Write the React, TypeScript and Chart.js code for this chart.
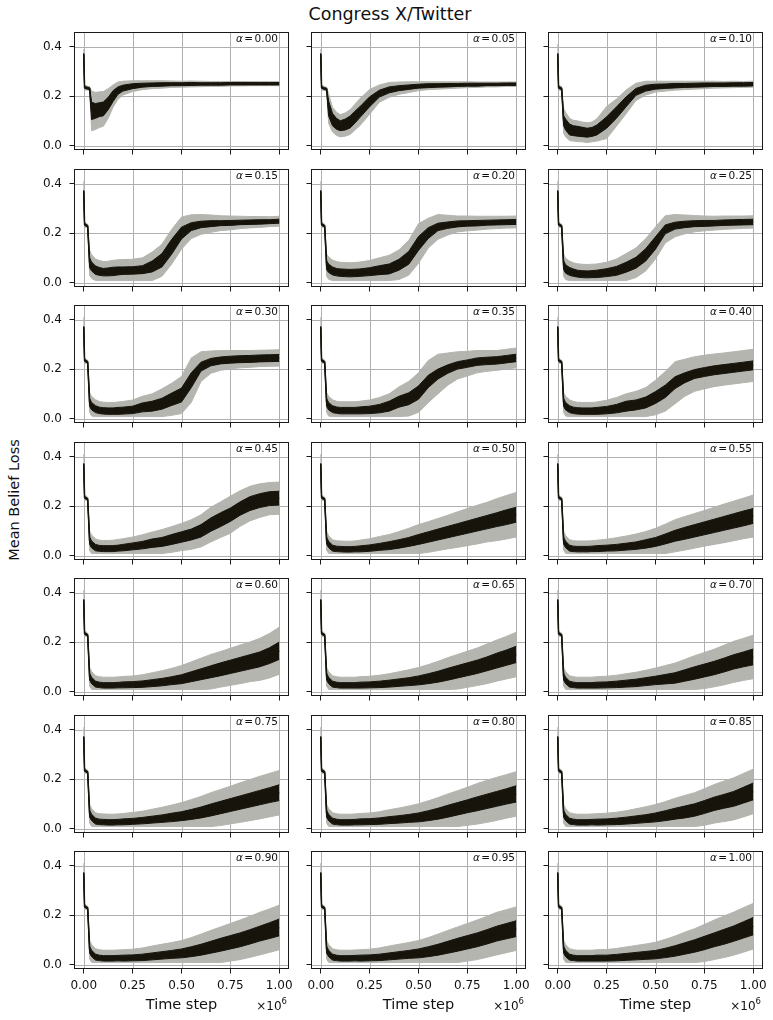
import React, { useEffect, useRef } from "react";
import { Chart, registerables } from "chart.js";

Chart.register(...registerables);

// Time axis, in units of 10^6 steps
const TIME_STEPS = [0, 0.004, 0.02, 0.03, 0.04, 0.06, 0.08, 0.1, 0.125, 0.15, 0.175, 0.2, 0.25, 0.3, 0.35, 0.4, 0.45, 0.5, 0.55, 0.6, 0.65, 0.7, 0.75, 0.8, 0.85, 0.9, 0.95, 1.0];
const X_TICKS = [0, 0.25, 0.5, 0.75, 1.0];
const Y_TICKS = [0, 0.2, 0.4];

// Per-alpha series: mean belief loss, half-width of the dark band, half-width of the light band
const MEAN_000 = [0.37, 0.235, 0.232, 0.23, 0.14, 0.14, 0.145, 0.148, 0.17, 0.2, 0.222, 0.232, 0.24, 0.244, 0.246, 0.247, 0.248, 0.248, 0.249, 0.249, 0.249, 0.249, 0.25, 0.25, 0.25, 0.25, 0.25, 0.25];
const INNER_000 = [0.004, 0.004, 0.004, 0.004, 0.035, 0.03, 0.028, 0.028, 0.025, 0.022, 0.015, 0.012, 0.01, 0.008, 0.007, 0.007, 0.006, 0.006, 0.006, 0.005, 0.005, 0.005, 0.005, 0.005, 0.005, 0.005, 0.005, 0.005];
const OUTER_000 = [0.02, 0.01, 0.008, 0.008, 0.08, 0.075, 0.072, 0.07, 0.06, 0.045, 0.035, 0.028, 0.022, 0.018, 0.016, 0.015, 0.013, 0.012, 0.012, 0.011, 0.01, 0.01, 0.009, 0.009, 0.008, 0.008, 0.008, 0.008];

const MEAN_005 = [0.37, 0.235, 0.23, 0.228, 0.15, 0.105, 0.088, 0.08, 0.085, 0.095, 0.115, 0.135, 0.177, 0.21, 0.225, 0.232, 0.236, 0.24, 0.242, 0.243, 0.244, 0.245, 0.246, 0.246, 0.247, 0.247, 0.248, 0.248];
const INNER_005 = [0.004, 0.004, 0.004, 0.004, 0.03, 0.025, 0.022, 0.02, 0.022, 0.024, 0.024, 0.022, 0.02, 0.014, 0.012, 0.01, 0.009, 0.008, 0.008, 0.007, 0.007, 0.006, 0.006, 0.006, 0.005, 0.005, 0.005, 0.005];
const OUTER_005 = [0.02, 0.01, 0.008, 0.008, 0.06, 0.05, 0.047, 0.045, 0.047, 0.05, 0.052, 0.055, 0.05, 0.035, 0.03, 0.025, 0.022, 0.018, 0.016, 0.015, 0.014, 0.013, 0.012, 0.011, 0.01, 0.01, 0.009, 0.009];

const MEAN_010 = [0.37, 0.235, 0.23, 0.1, 0.085, 0.065, 0.06, 0.058, 0.055, 0.052, 0.055, 0.063, 0.093, 0.133, 0.177, 0.217, 0.232, 0.238, 0.24, 0.242, 0.243, 0.244, 0.245, 0.246, 0.246, 0.247, 0.247, 0.248];
const INNER_010 = [0.004, 0.004, 0.004, 0.02, 0.022, 0.022, 0.02, 0.02, 0.019, 0.018, 0.018, 0.02, 0.023, 0.023, 0.02, 0.014, 0.012, 0.01, 0.009, 0.009, 0.008, 0.008, 0.008, 0.007, 0.007, 0.007, 0.007, 0.007];
const OUTER_010 = [0.04, 0.01, 0.008, 0.05, 0.05, 0.045, 0.042, 0.042, 0.04, 0.04, 0.04, 0.045, 0.065, 0.055, 0.048, 0.035, 0.028, 0.022, 0.02, 0.018, 0.017, 0.016, 0.015, 0.014, 0.013, 0.013, 0.012, 0.012];

const MEAN_015 = [0.37, 0.235, 0.228, 0.08, 0.065, 0.05, 0.045, 0.042, 0.043, 0.045, 0.047, 0.048, 0.049, 0.052, 0.065, 0.09, 0.145, 0.2, 0.226, 0.235, 0.238, 0.24, 0.241, 0.243, 0.244, 0.245, 0.246, 0.248];
const INNER_015 = [0.004, 0.004, 0.004, 0.02, 0.018, 0.017, 0.016, 0.015, 0.016, 0.017, 0.016, 0.015, 0.015, 0.016, 0.022, 0.027, 0.03, 0.024, 0.016, 0.013, 0.012, 0.01, 0.01, 0.009, 0.009, 0.009, 0.008, 0.008];
const OUTER_015 = [0.04, 0.01, 0.008, 0.05, 0.048, 0.045, 0.044, 0.043, 0.043, 0.045, 0.045, 0.045, 0.045, 0.048, 0.058, 0.065, 0.07, 0.065, 0.048, 0.04, 0.035, 0.03, 0.028, 0.025, 0.023, 0.022, 0.02, 0.02];

const MEAN_020 = [0.37, 0.235, 0.228, 0.07, 0.058, 0.047, 0.042, 0.04, 0.039, 0.038, 0.039, 0.04, 0.044, 0.05, 0.055, 0.072, 0.1, 0.158, 0.2, 0.225, 0.232, 0.237, 0.239, 0.24, 0.242, 0.243, 0.244, 0.245];
const INNER_020 = [0.004, 0.004, 0.004, 0.018, 0.017, 0.016, 0.015, 0.015, 0.015, 0.015, 0.015, 0.015, 0.016, 0.018, 0.02, 0.022, 0.026, 0.028, 0.022, 0.015, 0.013, 0.012, 0.011, 0.011, 0.01, 0.01, 0.01, 0.01];
const OUTER_020 = [0.04, 0.01, 0.008, 0.045, 0.045, 0.044, 0.043, 0.042, 0.042, 0.042, 0.042, 0.043, 0.045, 0.05, 0.055, 0.06, 0.07, 0.08, 0.06, 0.05, 0.04, 0.032, 0.03, 0.028, 0.026, 0.025, 0.024, 0.024];

const MEAN_025 = [0.37, 0.235, 0.228, 0.07, 0.055, 0.045, 0.04, 0.036, 0.034, 0.033, 0.034, 0.035, 0.04, 0.047, 0.062, 0.08, 0.112, 0.16, 0.215, 0.23, 0.235, 0.238, 0.239, 0.24, 0.242, 0.243, 0.244, 0.245];
const INNER_025 = [0.004, 0.004, 0.004, 0.018, 0.017, 0.016, 0.015, 0.014, 0.014, 0.014, 0.014, 0.015, 0.016, 0.018, 0.02, 0.022, 0.025, 0.025, 0.018, 0.014, 0.013, 0.012, 0.012, 0.011, 0.011, 0.011, 0.011, 0.011];
const OUTER_025 = [0.04, 0.01, 0.008, 0.045, 0.043, 0.042, 0.04, 0.04, 0.04, 0.04, 0.04, 0.04, 0.042, 0.048, 0.055, 0.06, 0.065, 0.065, 0.055, 0.045, 0.038, 0.033, 0.03, 0.028, 0.027, 0.026, 0.025, 0.025];

const MEAN_030 = [0.37, 0.235, 0.228, 0.065, 0.05, 0.038, 0.033, 0.031, 0.03, 0.03, 0.031, 0.032, 0.035, 0.045, 0.05, 0.06, 0.078, 0.095, 0.155, 0.21, 0.228, 0.235, 0.238, 0.24, 0.241, 0.243, 0.244, 0.245];
const INNER_030 = [0.004, 0.004, 0.004, 0.016, 0.015, 0.014, 0.013, 0.013, 0.013, 0.013, 0.014, 0.014, 0.015, 0.018, 0.02, 0.022, 0.025, 0.028, 0.03, 0.018, 0.015, 0.014, 0.014, 0.014, 0.014, 0.014, 0.014, 0.014];
const OUTER_030 = [0.04, 0.01, 0.008, 0.04, 0.04, 0.038, 0.036, 0.035, 0.035, 0.035, 0.036, 0.037, 0.04, 0.045, 0.05, 0.06, 0.065, 0.075, 0.09, 0.06, 0.045, 0.04, 0.037, 0.035, 0.034, 0.033, 0.033, 0.033];

const MEAN_035 = [0.37, 0.235, 0.228, 0.065, 0.05, 0.038, 0.034, 0.032, 0.032, 0.032, 0.032, 0.033, 0.035, 0.04, 0.05, 0.068, 0.08, 0.105, 0.15, 0.18, 0.2, 0.215, 0.222, 0.23, 0.233, 0.235, 0.24, 0.245];
const INNER_035 = [0.004, 0.004, 0.004, 0.016, 0.015, 0.014, 0.013, 0.013, 0.013, 0.013, 0.013, 0.014, 0.015, 0.017, 0.02, 0.022, 0.024, 0.027, 0.025, 0.02, 0.017, 0.015, 0.015, 0.015, 0.015, 0.015, 0.015, 0.015];
const OUTER_035 = [0.04, 0.01, 0.008, 0.04, 0.04, 0.038, 0.036, 0.036, 0.036, 0.036, 0.036, 0.037, 0.04, 0.045, 0.05, 0.06, 0.07, 0.08, 0.085, 0.08, 0.065, 0.055, 0.05, 0.045, 0.042, 0.04, 0.04, 0.04];

const MEAN_040 = [0.37, 0.235, 0.228, 0.065, 0.05, 0.038, 0.033, 0.031, 0.03, 0.03, 0.03, 0.031, 0.034, 0.04, 0.05, 0.055, 0.065, 0.085, 0.11, 0.145, 0.165, 0.18, 0.188, 0.195, 0.2, 0.205, 0.21, 0.215];
const INNER_040 = [0.004, 0.004, 0.004, 0.016, 0.015, 0.014, 0.013, 0.013, 0.013, 0.013, 0.013, 0.014, 0.015, 0.017, 0.02, 0.02, 0.022, 0.024, 0.025, 0.024, 0.02, 0.018, 0.018, 0.018, 0.018, 0.018, 0.018, 0.018];
const OUTER_040 = [0.04, 0.01, 0.008, 0.04, 0.04, 0.038, 0.036, 0.035, 0.035, 0.035, 0.035, 0.036, 0.04, 0.045, 0.05, 0.055, 0.06, 0.07, 0.08, 0.085, 0.075, 0.07, 0.068, 0.066, 0.065, 0.065, 0.065, 0.065];

const MEAN_045 = [0.37, 0.235, 0.228, 0.06, 0.045, 0.032, 0.029, 0.028, 0.028, 0.028, 0.03, 0.032, 0.037, 0.042, 0.05, 0.055, 0.065, 0.075, 0.085, 0.1, 0.125, 0.145, 0.165, 0.19, 0.21, 0.222, 0.23, 0.232];
const INNER_045 = [0.004, 0.004, 0.004, 0.015, 0.014, 0.013, 0.012, 0.012, 0.012, 0.012, 0.012, 0.013, 0.014, 0.015, 0.017, 0.018, 0.02, 0.021, 0.022, 0.025, 0.027, 0.028, 0.027, 0.027, 0.028, 0.028, 0.028, 0.028];
const OUTER_045 = [0.04, 0.01, 0.008, 0.04, 0.038, 0.035, 0.033, 0.033, 0.033, 0.034, 0.035, 0.036, 0.038, 0.042, 0.045, 0.05, 0.052, 0.055, 0.06, 0.065, 0.07, 0.072, 0.075, 0.072, 0.07, 0.068, 0.065, 0.065];

const MEAN_050 = [0.37, 0.235, 0.228, 0.06, 0.045, 0.03, 0.027, 0.026, 0.025, 0.025, 0.026, 0.027, 0.03, 0.035, 0.04, 0.047, 0.055, 0.065, 0.075, 0.085, 0.095, 0.105, 0.115, 0.125, 0.135, 0.145, 0.155, 0.165];
const INNER_050 = [0.004, 0.004, 0.004, 0.014, 0.013, 0.012, 0.011, 0.011, 0.011, 0.011, 0.011, 0.012, 0.013, 0.014, 0.016, 0.017, 0.018, 0.02, 0.021, 0.022, 0.023, 0.024, 0.025, 0.026, 0.027, 0.028, 0.03, 0.03];
const OUTER_050 = [0.04, 0.01, 0.008, 0.038, 0.036, 0.034, 0.033, 0.033, 0.033, 0.033, 0.033, 0.035, 0.038, 0.042, 0.045, 0.05, 0.055, 0.06, 0.062, 0.065, 0.068, 0.072, 0.075, 0.078, 0.08, 0.085, 0.088, 0.09];

const MEAN_055 = [0.37, 0.235, 0.228, 0.06, 0.045, 0.03, 0.027, 0.026, 0.026, 0.026, 0.027, 0.028, 0.03, 0.032, 0.036, 0.04, 0.047, 0.055, 0.067, 0.08, 0.09, 0.1, 0.11, 0.12, 0.13, 0.14, 0.15, 0.16];
const INNER_055 = [0.004, 0.004, 0.004, 0.014, 0.013, 0.012, 0.011, 0.011, 0.011, 0.011, 0.011, 0.012, 0.012, 0.013, 0.014, 0.015, 0.017, 0.018, 0.02, 0.022, 0.024, 0.025, 0.026, 0.027, 0.028, 0.029, 0.03, 0.03];
const OUTER_055 = [0.04, 0.01, 0.008, 0.038, 0.036, 0.034, 0.033, 0.033, 0.033, 0.033, 0.033, 0.034, 0.036, 0.04, 0.043, 0.047, 0.05, 0.055, 0.06, 0.065, 0.068, 0.07, 0.072, 0.075, 0.078, 0.08, 0.082, 0.085];

const MEAN_060 = [0.37, 0.235, 0.228, 0.06, 0.045, 0.03, 0.027, 0.025, 0.025, 0.025, 0.026, 0.027, 0.028, 0.03, 0.034, 0.038, 0.044, 0.05, 0.06, 0.07, 0.08, 0.09, 0.1, 0.11, 0.12, 0.13, 0.145, 0.165];
const INNER_060 = [0.004, 0.004, 0.004, 0.014, 0.013, 0.012, 0.011, 0.011, 0.011, 0.011, 0.011, 0.012, 0.012, 0.013, 0.014, 0.015, 0.016, 0.018, 0.02, 0.022, 0.024, 0.026, 0.027, 0.028, 0.029, 0.03, 0.032, 0.035];
const OUTER_060 = [0.04, 0.01, 0.008, 0.038, 0.036, 0.034, 0.033, 0.033, 0.033, 0.033, 0.033, 0.034, 0.035, 0.038, 0.042, 0.046, 0.05, 0.055, 0.06, 0.065, 0.07, 0.072, 0.075, 0.078, 0.08, 0.085, 0.09, 0.095];

const MEAN_065 = [0.37, 0.235, 0.228, 0.06, 0.045, 0.03, 0.027, 0.025, 0.025, 0.025, 0.025, 0.026, 0.027, 0.029, 0.032, 0.036, 0.04, 0.045, 0.052, 0.06, 0.07, 0.08, 0.09, 0.1, 0.112, 0.125, 0.137, 0.15];
const INNER_065 = [0.004, 0.004, 0.004, 0.014, 0.013, 0.012, 0.011, 0.011, 0.011, 0.011, 0.011, 0.012, 0.012, 0.013, 0.014, 0.015, 0.016, 0.018, 0.02, 0.022, 0.024, 0.025, 0.026, 0.027, 0.028, 0.03, 0.031, 0.033];
const OUTER_065 = [0.04, 0.01, 0.008, 0.038, 0.036, 0.034, 0.033, 0.033, 0.033, 0.033, 0.033, 0.034, 0.035, 0.037, 0.04, 0.044, 0.048, 0.052, 0.057, 0.062, 0.067, 0.07, 0.073, 0.076, 0.08, 0.083, 0.086, 0.09];

const MEAN_070 = [0.37, 0.235, 0.228, 0.06, 0.045, 0.03, 0.027, 0.025, 0.025, 0.025, 0.025, 0.026, 0.027, 0.029, 0.032, 0.035, 0.04, 0.045, 0.05, 0.055, 0.065, 0.075, 0.085, 0.095, 0.107, 0.12, 0.13, 0.14];
const INNER_070 = [0.004, 0.004, 0.004, 0.014, 0.013, 0.012, 0.011, 0.011, 0.011, 0.011, 0.011, 0.012, 0.012, 0.013, 0.014, 0.015, 0.016, 0.017, 0.019, 0.021, 0.023, 0.025, 0.026, 0.027, 0.028, 0.029, 0.03, 0.032];
const OUTER_070 = [0.04, 0.01, 0.008, 0.038, 0.036, 0.034, 0.033, 0.033, 0.033, 0.033, 0.033, 0.034, 0.035, 0.037, 0.04, 0.043, 0.046, 0.05, 0.055, 0.06, 0.065, 0.07, 0.073, 0.076, 0.08, 0.083, 0.085, 0.088];

const MEAN_075 = [0.37, 0.235, 0.228, 0.06, 0.045, 0.03, 0.027, 0.026, 0.025, 0.025, 0.026, 0.027, 0.029, 0.032, 0.036, 0.04, 0.045, 0.05, 0.057, 0.065, 0.075, 0.085, 0.095, 0.105, 0.115, 0.125, 0.135, 0.145];
const INNER_075 = [0.004, 0.004, 0.004, 0.014, 0.013, 0.012, 0.011, 0.011, 0.011, 0.011, 0.011, 0.012, 0.012, 0.013, 0.014, 0.015, 0.017, 0.018, 0.02, 0.022, 0.024, 0.025, 0.026, 0.027, 0.028, 0.029, 0.03, 0.032];
const OUTER_075 = [0.04, 0.01, 0.008, 0.038, 0.036, 0.034, 0.033, 0.033, 0.033, 0.033, 0.033, 0.034, 0.036, 0.038, 0.042, 0.046, 0.05, 0.055, 0.06, 0.065, 0.07, 0.073, 0.076, 0.08, 0.083, 0.086, 0.088, 0.09];

const MEAN_080 = [0.37, 0.235, 0.228, 0.06, 0.045, 0.03, 0.027, 0.025, 0.025, 0.025, 0.026, 0.027, 0.028, 0.03, 0.034, 0.037, 0.041, 0.045, 0.052, 0.06, 0.07, 0.08, 0.09, 0.1, 0.11, 0.12, 0.13, 0.14];
const INNER_080 = [0.004, 0.004, 0.004, 0.014, 0.013, 0.012, 0.011, 0.011, 0.011, 0.011, 0.011, 0.012, 0.012, 0.013, 0.014, 0.015, 0.016, 0.018, 0.02, 0.022, 0.024, 0.025, 0.026, 0.028, 0.029, 0.03, 0.031, 0.033];
const OUTER_080 = [0.04, 0.01, 0.008, 0.038, 0.036, 0.034, 0.033, 0.033, 0.033, 0.033, 0.033, 0.034, 0.035, 0.038, 0.042, 0.046, 0.05, 0.055, 0.06, 0.065, 0.07, 0.073, 0.077, 0.082, 0.085, 0.087, 0.088, 0.09];

const MEAN_085 = [0.37, 0.235, 0.228, 0.06, 0.045, 0.03, 0.027, 0.025, 0.025, 0.025, 0.026, 0.026, 0.027, 0.029, 0.032, 0.036, 0.04, 0.045, 0.052, 0.06, 0.067, 0.075, 0.087, 0.1, 0.11, 0.12, 0.135, 0.15];
const INNER_085 = [0.004, 0.004, 0.004, 0.014, 0.013, 0.012, 0.011, 0.011, 0.011, 0.011, 0.011, 0.012, 0.012, 0.013, 0.014, 0.015, 0.016, 0.018, 0.02, 0.022, 0.024, 0.025, 0.026, 0.027, 0.028, 0.03, 0.032, 0.034];
const OUTER_085 = [0.04, 0.01, 0.008, 0.038, 0.036, 0.034, 0.033, 0.033, 0.033, 0.033, 0.033, 0.034, 0.035, 0.037, 0.04, 0.044, 0.048, 0.052, 0.057, 0.062, 0.067, 0.07, 0.074, 0.078, 0.082, 0.085, 0.088, 0.09];

const MEAN_090 = [0.37, 0.235, 0.228, 0.06, 0.045, 0.03, 0.027, 0.025, 0.025, 0.025, 0.026, 0.026, 0.027, 0.029, 0.033, 0.037, 0.041, 0.045, 0.052, 0.06, 0.07, 0.08, 0.09, 0.1, 0.112, 0.125, 0.137, 0.15];
const INNER_090 = [0.004, 0.004, 0.004, 0.014, 0.013, 0.012, 0.011, 0.011, 0.011, 0.011, 0.011, 0.012, 0.012, 0.013, 0.014, 0.015, 0.016, 0.018, 0.02, 0.022, 0.024, 0.026, 0.027, 0.028, 0.029, 0.03, 0.032, 0.034];
const OUTER_090 = [0.04, 0.01, 0.008, 0.038, 0.036, 0.034, 0.033, 0.033, 0.033, 0.033, 0.033, 0.034, 0.035, 0.038, 0.042, 0.045, 0.048, 0.052, 0.057, 0.063, 0.068, 0.072, 0.076, 0.08, 0.083, 0.086, 0.088, 0.09];

const MEAN_095 = [0.37, 0.235, 0.228, 0.06, 0.045, 0.03, 0.027, 0.025, 0.025, 0.025, 0.026, 0.026, 0.027, 0.029, 0.033, 0.037, 0.041, 0.045, 0.052, 0.06, 0.07, 0.08, 0.09, 0.1, 0.112, 0.125, 0.135, 0.145];
const INNER_095 = [0.004, 0.004, 0.004, 0.014, 0.013, 0.012, 0.011, 0.011, 0.011, 0.011, 0.011, 0.012, 0.012, 0.013, 0.014, 0.015, 0.016, 0.018, 0.02, 0.022, 0.024, 0.026, 0.027, 0.028, 0.029, 0.03, 0.031, 0.032];
const OUTER_095 = [0.04, 0.01, 0.008, 0.038, 0.036, 0.034, 0.033, 0.033, 0.033, 0.033, 0.033, 0.034, 0.035, 0.038, 0.042, 0.045, 0.048, 0.052, 0.057, 0.063, 0.068, 0.072, 0.076, 0.08, 0.083, 0.086, 0.087, 0.088];

const MEAN_100 = [0.37, 0.235, 0.228, 0.06, 0.045, 0.03, 0.027, 0.025, 0.025, 0.025, 0.025, 0.026, 0.026, 0.028, 0.031, 0.034, 0.037, 0.04, 0.047, 0.055, 0.065, 0.075, 0.087, 0.1, 0.112, 0.125, 0.14, 0.155];
const INNER_100 = [0.004, 0.004, 0.004, 0.014, 0.013, 0.012, 0.011, 0.011, 0.011, 0.011, 0.011, 0.012, 0.012, 0.013, 0.014, 0.015, 0.016, 0.017, 0.019, 0.021, 0.023, 0.025, 0.027, 0.028, 0.03, 0.031, 0.033, 0.035];
const OUTER_100 = [0.04, 0.01, 0.008, 0.038, 0.036, 0.034, 0.033, 0.033, 0.033, 0.033, 0.033, 0.034, 0.035, 0.037, 0.04, 0.043, 0.046, 0.05, 0.055, 0.06, 0.066, 0.07, 0.075, 0.08, 0.084, 0.087, 0.09, 0.092];

const ALPHA_LABELS = ["0.00", "0.05", "0.10", "0.15", "0.20", "0.25", "0.30", "0.35", "0.40", "0.45", "0.50", "0.55", "0.60", "0.65", "0.70", "0.75", "0.80", "0.85", "0.90", "0.95", "1.00"];
const MEANS = [MEAN_000, MEAN_005, MEAN_010, MEAN_015, MEAN_020, MEAN_025, MEAN_030, MEAN_035, MEAN_040, MEAN_045, MEAN_050, MEAN_055, MEAN_060, MEAN_065, MEAN_070, MEAN_075, MEAN_080, MEAN_085, MEAN_090, MEAN_095, MEAN_100];
const INNERS = [INNER_000, INNER_005, INNER_010, INNER_015, INNER_020, INNER_025, INNER_030, INNER_035, INNER_040, INNER_045, INNER_050, INNER_055, INNER_060, INNER_065, INNER_070, INNER_075, INNER_080, INNER_085, INNER_090, INNER_095, INNER_100];
const OUTERS = [OUTER_000, OUTER_005, OUTER_010, OUTER_015, OUTER_020, OUTER_025, OUTER_030, OUTER_035, OUTER_040, OUTER_045, OUTER_050, OUTER_055, OUTER_060, OUTER_065, OUTER_070, OUTER_075, OUTER_080, OUTER_085, OUTER_090, OUTER_095, OUTER_100];
const LOSS_FLOOR = 0.008;

// Layout of the 7 x 3 grid of panels
const COL_LEFT = [74, 311, 548];
const ROW_TOP = [32, 169, 305, 442, 578, 715, 851];
const PANEL_W = 215;
const PANEL_H = 118;
const PAD_L = 50;
const PAD_R = 12;
const PAD_T = 4;
const PAD_B = 50;
const X_MIN = -0.05;
const X_MAX = 1.05;
const Y_MIN = -0.018;
const Y_MAX = 0.459;

const FONT = "'DejaVu Sans', sans-serif";
const DARK = "#17140c";
const LIGHT = "#b4b5af";
const GRID = "#b0b0b0";
const AXIS = "#1a1a1a";
const TEXT = "#111111";

function decorations(label: string, bottomRow: boolean) {
  return {
    id: "panelDecor",
    afterDatasetDraw(chart: any, args: any) {
      // grid sits above the light band and below the dark band
      if (args.index !== 3) return;
      const { ctx, chartArea: a, scales } = chart;
      ctx.save();
      ctx.strokeStyle = GRID;
      ctx.lineWidth = 1;
      ctx.beginPath();
      for (const v of X_TICKS) {
        const px = Math.round(scales.x.getPixelForValue(v)) + 0.5;
        ctx.moveTo(px, a.top);
        ctx.lineTo(px, a.bottom);
      }
      for (const v of Y_TICKS) {
        const py = Math.round(scales.y.getPixelForValue(v)) + 0.5;
        ctx.moveTo(a.left, py);
        ctx.lineTo(a.right, py);
      }
      ctx.stroke();
      ctx.restore();
    },
    afterDatasetsDraw(chart: any) {
      const { ctx, chartArea: a } = chart;
      ctx.save();
      ctx.strokeStyle = AXIS;
      ctx.lineWidth = 1;
      ctx.strokeRect(a.left + 0.5, a.top + 0.5, a.right - a.left - 1, a.bottom - a.top - 1);

      // alpha annotation, top right
      ctx.fillStyle = TEXT;
      ctx.textBaseline = "middle";
      ctx.textAlign = "right";
      const ty = a.top + 7.5;
      let tx = a.right - 11;
      ctx.font = `10.5px ${FONT}`;
      ctx.fillText(label, tx, ty);
      tx -= ctx.measureText(label).width + 1.5;
      ctx.fillText("=", tx, ty);
      tx -= ctx.measureText("=").width + 1.5;
      ctx.font = `italic 10.5px ${FONT}`;
      ctx.fillText("α", tx, ty);

      if (bottomRow) {
        ctx.textAlign = "center";
        ctx.font = `14.5px ${FONT}`;
        ctx.fillText("Time step", (a.left + a.right) / 2, a.bottom + 36);

        ctx.textAlign = "right";
        ctx.textBaseline = "alphabetic";
        ctx.font = `8.5px ${FONT}`;
        const rx = a.right - 2;
        ctx.fillText("6", rx, a.bottom + 35);
        const w6 = ctx.measureText("6").width;
        ctx.font = `12px ${FONT}`;
        ctx.fillText("×10", rx - w6, a.bottom + 41);
      }
      ctx.restore();
    },
  };
}

function Panel({ idx }: { idx: number }) {
  const ref = useRef<HTMLCanvasElement | null>(null);
  const row = Math.floor(idx / 3);
  const col = idx % 3;
  const bottomRow = row === 6;
  const leftCol = col === 0;
  const W = PAD_L + PANEL_W + PAD_R;
  const H = PAD_T + PANEL_H + PAD_B;

  useEffect(() => {
    const mean = MEANS[idx];
    const inner = INNERS[idx];
    const outer = OUTERS[idx];
    const series = (f: (i: number) => number) => TIME_STEPS.map((t, i) => ({ x: t, y: f(i) }));

    const chart = new Chart(ref.current as HTMLCanvasElement, {
      type: "line",
      data: {
        datasets: [
          { data: series((i) => mean[i]), borderColor: DARK, borderWidth: 1.5, pointRadius: 0, fill: false },
          { data: series((i) => mean[i] + inner[i]), borderColor: DARK, backgroundColor: DARK, borderWidth: 1, pointRadius: 0, fill: "+1" },
          { data: series((i) => mean[i] - inner[i]), borderColor: DARK, borderWidth: 1, pointRadius: 0, fill: false },
          { data: series((i) => mean[i] + outer[i]), borderColor: LIGHT, backgroundColor: LIGHT, borderWidth: 1, pointRadius: 0, fill: "+1" },
          { data: series((i) => Math.max(LOSS_FLOOR, mean[i] - outer[i])), borderColor: LIGHT, borderWidth: 1, pointRadius: 0, fill: false },
        ],
      },
      options: {
        responsive: false,
        animation: false,
        events: [],
        layout: { padding: { top: PAD_T, right: PAD_R, left: 0, bottom: 0 } },
        elements: { line: { tension: 0 }, point: { radius: 0 } },
        plugins: { legend: { display: false }, tooltip: { enabled: false } },
        scales: {
          x: {
            type: "linear",
            min: X_MIN,
            max: X_MAX,
            afterBuildTicks: (s: any) => {
              s.ticks = X_TICKS.map((v) => ({ value: v }));
            },
            afterFit: (s: any) => {
              s.height = PAD_B;
              s.paddingLeft = 0;
              s.paddingRight = 0;
            },
            grid: { drawOnChartArea: false, color: "rgba(0,0,0,0)", tickColor: AXIS, tickLength: 4.5, tickWidth: 1 },
            border: { display: false },
            ticks: {
              autoSkip: false,
              maxRotation: 0,
              padding: 5.5,
              color: TEXT,
              font: { family: FONT, size: 12 },
              callback: (v: any) => (bottomRow ? Number(v).toFixed(2) : ""),
            },
          },
          y: {
            type: "linear",
            min: Y_MIN,
            max: Y_MAX,
            afterBuildTicks: (s: any) => {
              s.ticks = Y_TICKS.map((v) => ({ value: v }));
            },
            afterFit: (s: any) => {
              s.width = PAD_L;
              s.paddingTop = 0;
              s.paddingBottom = 0;
            },
            grid: { drawOnChartArea: false, color: "rgba(0,0,0,0)", tickColor: AXIS, tickLength: 4.5, tickWidth: 1 },
            border: { display: false },
            ticks: {
              autoSkip: false,
              padding: 7.5,
              color: TEXT,
              font: { family: FONT, size: 12 },
              callback: (v: any) => (leftCol ? Number(v).toFixed(1) : ""),
            },
          },
        },
      },
      plugins: [decorations(ALPHA_LABELS[idx], bottomRow)],
    } as any);
    return () => chart.destroy();
  }, [idx]);

  return (
    <canvas
      ref={ref}
      width={W}
      height={H}
      style={{ position: "absolute", left: COL_LEFT[col] - PAD_L, top: ROW_TOP[row] - PAD_T, width: W, height: H }}
    />
  );
}

export default function App() {
  return (
    <div style={{ position: "absolute", left: 0, top: 0, width: 773, height: 1020, background: "#ffffff", overflow: "hidden" }}>
      <div
        style={{
          position: "absolute",
          left: 390,
          top: 14,
          transform: "translate(-50%, -50%)",
          fontFamily: FONT,
          fontSize: 17.5,
          color: TEXT,
          whiteSpace: "nowrap",
        }}
      >
        Congress X/Twitter
      </div>
      <div
        style={{
          position: "absolute",
          left: 14,
          top: 500,
          transform: "translate(-50%, -50%) rotate(-90deg)",
          fontFamily: FONT,
          fontSize: 14.5,
          color: TEXT,
          whiteSpace: "nowrap",
        }}
      >
        Mean Belief Loss
      </div>
      {ALPHA_LABELS.map((_, i) => (
        <Panel key={i} idx={i} />
      ))}
    </div>
  );
}
